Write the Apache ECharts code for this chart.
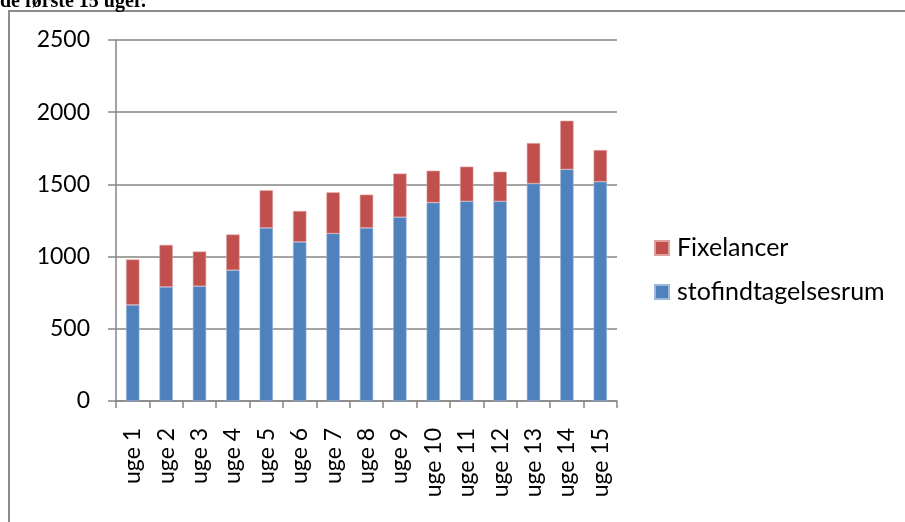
<!DOCTYPE html>
<html>
<head>
<meta charset="utf-8">
<script src="https://cdn.jsdelivr.net/npm/echarts@6/dist/echarts.min.js"></script>
<style>
html,body{margin:0;padding:0;background:#fff;}
#c{width:905px;height:522px;}
</style>
</head>
<body>
<div id="c"></div>
<script>
const categories = ['uge 1','uge 2','uge 3','uge 4','uge 5','uge 6','uge 7','uge 8','uge 9','uge 10','uge 11','uge 12','uge 13','uge 14','uge 15'];
const stofindtagelsesrum = [666, 790, 795, 906, 1199, 1102, 1160, 1199, 1273, 1374, 1383, 1383, 1506, 1604, 1519];
const fixelancer = [314, 291, 240, 247, 260, 214, 285, 230, 302, 221, 240, 205, 280, 337, 219];
const yTicks = {min: 0, max: 2500, interval: 500};
const headingText = 'de første 15 uger.';

const font = 'Lato';
const grey = '#868686';
const chart = echarts.init(document.getElementById('c'));
chart.setOption({
  animation: false,
  backgroundColor: '#fff',
  graphic: [
    {type: 'rect', z: 0, shape: {x: 9, y: 11, width: 1000, height: 1000},
     style: {fill: 'none', stroke: '#8c8c8c', lineWidth: 2}},
    {type: 'text', x: 0, y: -8, z: 10,
     style: {text: headingText, fontSize: 20, fontWeight: 'bold', fontFamily: 'Liberation Serif', fill: '#000', verticalAlign: 'top', align: 'left'}}
  ],
  grid: {left: 116, right: 288, top: 40, bottom: 121, containLabel: false},
  legend: {
    orient: 'vertical', left: 649, top: 230,
    data: ['Fixelancer', 'stofindtagelsesrum'],
    icon: 'rect', itemWidth: 14, itemHeight: 14, itemGap: 18,
    textStyle: {fontFamily: font, fontSize: 25, color: '#000', lineHeight: 26, padding: [0,0,0,3]}
  },
  xAxis: {
    type: 'category', data: categories,
    axisLine: {lineStyle: {color: grey, width: 1.5}},
    axisTick: {show: true, alignWithLabel: false, length: 7, lineStyle: {color: grey, width: 1.5}},
    axisLabel: {rotate: 90, margin: 27, fontFamily: font, fontSize: 23, color: '#000', interval: 0}
  },
  yAxis: {
    type: 'value', min: yTicks.min, max: yTicks.max, interval: yTicks.interval,
    axisLine: {show: true, lineStyle: {color: grey, width: 1.5}},
    axisTick: {show: true, length: 8, lineStyle: {color: grey, width: 1.5}},
    splitLine: {lineStyle: {color: grey, width: 1.5}},
    axisLabel: {margin: 26, fontFamily: font, fontSize: 23, color: '#000', formatter: v => String(v)}
  },
  series: [
    {name: 'stofindtagelsesrum', type: 'bar', stack: 'a', barWidth: '40%', data: stofindtagelsesrum,
     itemStyle: {color: '#4F81BD', borderColor: '#9db8dc', borderWidth: 0.6}},
    {name: 'Fixelancer', type: 'bar', stack: 'a', barWidth: '40%', data: fixelancer,
     itemStyle: {color: '#C0504D', borderColor: '#e0a09e', borderWidth: 0.6}}
  ]
});
</script>
</body>
</html>
